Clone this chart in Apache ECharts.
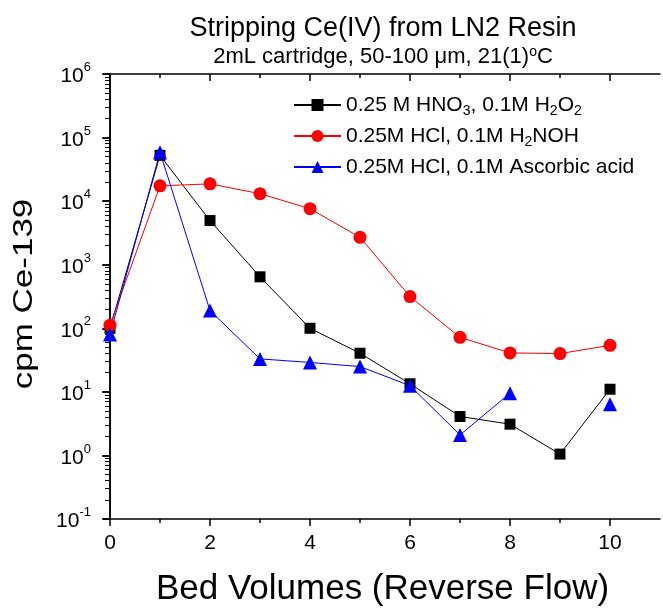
<!DOCTYPE html>
<html>
<head>
<meta charset="utf-8">
<script src="https://cdn.jsdelivr.net/npm/echarts@6/dist/echarts.min.js"></script>
<style>html,body{margin:0;padding:0;background:#fff;}#c{width:663px;height:612px;}</style>
</head>
<body>
<div id="c"></div>
<script>
var bedVolumes = [0, 1, 2, 3, 4, 5, 6, 7, 8, 9, 10];
var hno3H2o2 = [100, 52500, 4950, 645, 100, 40.5, 13.4, 4.1, 3.1, 1.05, 11];
var hclH2noh = [112, 17400, 18700, 13100, 7600, 2700, 315, 72, 41, 40, 54];
var hclAscorbic = [80, 59000, 190, 33, 29, 25, 12.5, 2.1, 9.5, null, 6.4];
var xTickLabels = [0, 2, 4, 6, 8, 10];
var xMinorTicks = [1, 3, 5, 7, 9];
var seriesNames = [
  '0.25 M HNO{sub|3}, 0.1M H{sub|2}O{sub|2}',
  '0.25M HCl, 0.1M H{sub|2}NOH',
  '0.25M HCl, 0.1M Ascorbic acid'
];
var FONT = '"Liberation Sans", Arial, sans-serif';

function pairs(vals) {
  return bedVolumes.map(function (x, i) { return [x, vals[i] == null ? '-' : vals[i]]; });
}

var chart = echarts.init(document.getElementById('c'), null, {renderer: 'canvas'});
var xBase = {type: 'value', min: -0.1, max: 11, splitLine: {show: false}, gridIndex: 0};
var yBase = {type: 'log', logBase: 10, min: 0.1, max: 1e6, interval: 1, splitLine: {show: false}, gridIndex: 0};
var lineStyleAxis = {color: '#000', width: 1.5};
var tickStyle = {color: '#000', width: 1.5};

chart.setOption({
  animation: false,
  backgroundColor: '#fff',
  title: [
    {text: 'Stripping Ce(IV) from LN2 Resin', left: 378, top: 10, textAlign: 'center',
     textStyle: {fontFamily: FONT, fontSize: 27, fontWeight: 'normal', color: '#000'}},
    {text: '2mL cartridge, 50-100 μm, 21(1){sup|o}C', left: 378, top: 40, textAlign: 'center',
     textStyle: {fontFamily: FONT, fontSize: 22, fontWeight: 'normal', color: '#000', lineHeight: 24,
       rich: {sup: {fontFamily: FONT, fontSize: 14, verticalAlign: 'top', lineHeight: 24, color: '#000'}}}}
  ],
  graphic: [
    {type: 'text', x: 24, y: 294, rotation: Math.PI / 2, scaleY: 0.8,
     style: {text: 'cpm Ce-139', fontFamily: FONT, fontSize: 35, fill: '#000', align: 'center', verticalAlign: 'middle'}}
  ],
  grid: {left: 105, right: 3, top: 74, bottom: 89, containLabel: false},
  legend: {
    orient: 'vertical', left: 288, top: 87, itemGap: 5, itemWidth: 47, itemHeight: 15,
    data: seriesNames,
    formatter: function (n) { return n; },
    textStyle: {fontFamily: FONT, fontSize: 21, color: '#000', lineHeight: 26,
      rich: {sub: {fontFamily: FONT, fontSize: 14, verticalAlign: 'bottom', lineHeight: 26, color: '#000'}}}
  },
  xAxis: [
    Object.assign({}, xBase, {position: 'bottom',
      name: 'Bed Volumes (Reverse Flow)', nameLocation: 'middle', nameGap: 53,
      nameTextStyle: {fontFamily: FONT, fontSize: 35, color: '#000'},
      axisLine: {show: true, lineStyle: lineStyleAxis},
      axisTick: {show: true, inside: false, length: 7, customValues: xTickLabels, lineStyle: tickStyle},
      axisLabel: {show: true, customValues: xTickLabels, margin: 14, fontFamily: FONT, fontSize: 21, color: '#000'}}),
    Object.assign({}, xBase, {position: 'bottom',
      axisLine: {show: false},
      axisTick: {show: true, inside: false, length: 4, customValues: xMinorTicks, lineStyle: tickStyle},
      axisLabel: {show: false}}),
    Object.assign({}, xBase, {position: 'top',
      axisLine: {show: true, lineStyle: lineStyleAxis},
      axisTick: {show: true, inside: true, length: 7, customValues: xTickLabels, lineStyle: tickStyle},
      axisLabel: {show: false}}),
    Object.assign({}, xBase, {position: 'top',
      axisLine: {show: false},
      axisTick: {show: true, inside: true, length: 4, customValues: xMinorTicks, lineStyle: tickStyle},
      axisLabel: {show: false}})
  ],
  yAxis: [
    Object.assign({}, yBase, {position: 'left',
      axisLine: {show: true, lineStyle: lineStyleAxis},
      axisTick: {show: true, inside: false, length: 8, lineStyle: tickStyle},
      minorTick: {show: true, splitNumber: 9, length: 5, lineStyle: {color: '#000', width: 1}},
      axisLabel: {show: true, margin: 14, fontFamily: FONT,
        formatter: function (v) {
          var e = Math.round(Math.log10(v));
          return '{b|10}{s|' + e + '}';
        },
        rich: {
          b: {fontFamily: FONT, fontSize: 21, color: '#000', lineHeight: 26, verticalAlign: 'bottom'},
          s: {fontFamily: FONT, fontSize: 13, color: '#000', lineHeight: 26, verticalAlign: 'top'}
        }}}),
    Object.assign({}, yBase, {position: 'right',
      axisLine: {show: true, lineStyle: lineStyleAxis},
      axisTick: {show: true, inside: true, length: 7, lineStyle: tickStyle},
      minorTick: {show: true, splitNumber: 9, length: 4, lineStyle: {color: '#000', width: 1}},
      axisLabel: {show: false}})
  ],
  series: [
    {name: seriesNames[0], type: 'line', xAxisIndex: 0, yAxisIndex: 0, data: pairs(hno3H2o2),
     symbol: 'rect', symbolSize: 11, color: '#000000', lineStyle: {color: '#000000', width: 1},
     itemStyle: {color: '#000000'}},
    {name: seriesNames[1], type: 'line', xAxisIndex: 0, yAxisIndex: 0, data: pairs(hclH2noh),
     symbol: 'circle', symbolSize: 13, color: '#ff0000', lineStyle: {color: '#ff0000', width: 1},
     itemStyle: {color: '#ff0000'}},
    {name: seriesNames[2], type: 'line', xAxisIndex: 0, yAxisIndex: 0, data: pairs(hclAscorbic),
     symbol: 'triangle', symbolSize: 14, color: '#0000ff', connectNulls: false, lineStyle: {color: '#0000ff', width: 1},
     itemStyle: {color: '#0000ff'}}
  ]
});
</script>
</body>
</html>
